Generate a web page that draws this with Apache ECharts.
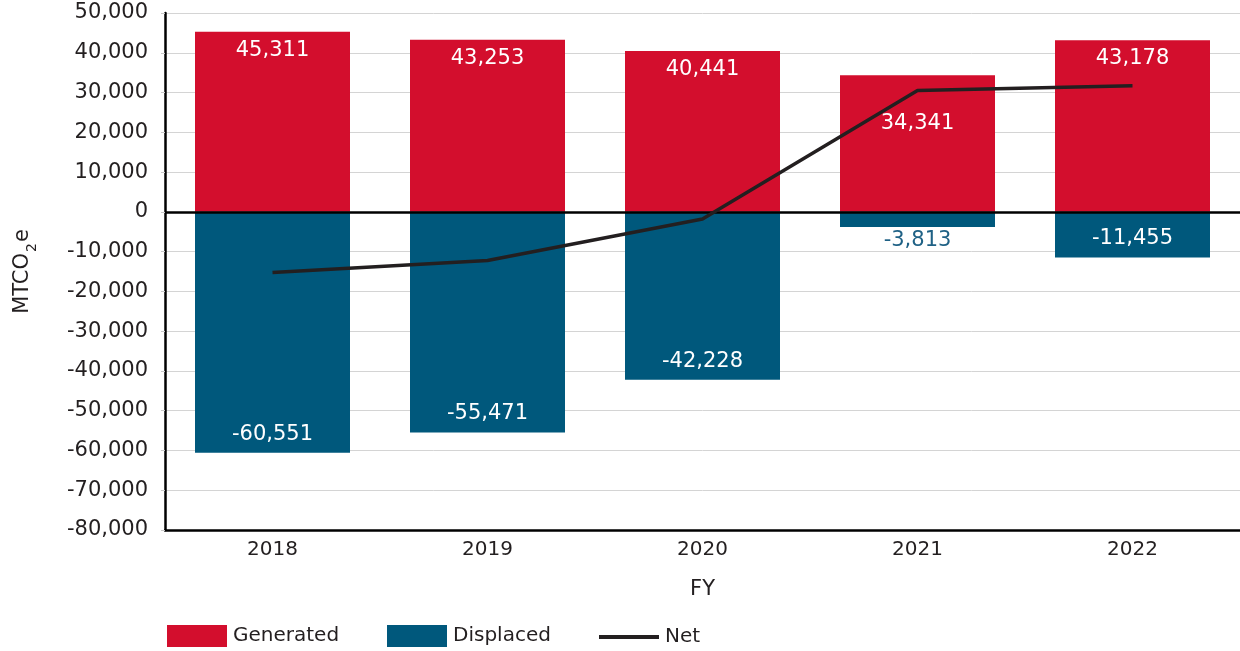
<!DOCTYPE html>
<html>
<head>
<meta charset="utf-8">
<script src="https://cdn.jsdelivr.net/npm/echarts@6/dist/echarts.min.js"></script>
<style>
  html, body { margin: 0; padding: 0; background: #fff; }
  #chart { width: 1240px; height: 651px; }
</style>
</head>
<body>
<div id="chart"></div>
<script>
// values
const years = ['2018', '2019', '2020', '2021', '2022'];
const generated = [45311, 43253, 40441, 34341, 43178];
const displaced = [-60551, -55471, -42228, -3813, -11455];
const net = [-15240, -12218, -1787, 30528, 31723];

const font = 'DejaVu Sans';
const textColor = '#231f20';
const red = '#d30e2d';
const teal = '#00587c';

const fmt = v => v.toLocaleString('en-US');

// the 2021 bars carry their labels a bit differently
const generatedData = generated.map((v, i) => i === 3
  ? { value: v, label: { distance: 38 } } : v);
const displacedData = displaced.map((v, i) => i === 3
  ? { value: v, label: { position: 'bottom', distance: 3, color: '#1f6185' } } : v);

const chart = echarts.init(document.getElementById('chart'));

const legendBase = {
  bottom: -1,
  itemWidth: 60,
  itemHeight: 22,
  itemGap: 0,
  textStyle: { fontFamily: font, fontSize: 20, color: textColor, padding: [0, 0, 0, 1] },
  selectedMode: false
};

chart.setOption({
  animation: false,
  textStyle: { fontFamily: font },
  grid: { left: 165, right: 0, top: 13, bottom: 121, containLabel: false },
  legend: [
    Object.assign({}, legendBase, { left: 162, data: [{ name: 'Generated', icon: 'rect' }] }),
    Object.assign({}, legendBase, { left: 382, data: [{ name: 'Displaced', icon: 'rect' }] }),
    Object.assign({}, legendBase, {
      left: 594, itemHeight: 4,
      data: [{ name: 'Net', icon: 'rect', itemStyle: { color: textColor } }]
    })
  ],
  xAxis: {
    type: 'category',
    data: years,
    name: 'FY',
    nameLocation: 'middle',
    nameGap: 49,
    nameTextStyle: { fontFamily: font, fontSize: 21, color: textColor },
    axisLine: { onZero: false, lineStyle: { color: '#000', width: 2.5 } },
    axisTick: { show: false },
    axisLabel: { fontFamily: font, fontSize: 20, color: textColor, margin: 10 }
  },
  yAxis: {
    type: 'value',
    min: -80000,
    max: 50000,
    interval: 10000,
    name: '{a|MTCO}{b|2}{a|e}',
    nameLocation: 'middle',
    nameRotate: 90,
    nameGap: 132,
    nameTextStyle: {
      fontFamily: font, fontSize: 21, color: textColor,
      rich: {
        a: { fontFamily: font, fontSize: 21, color: textColor, lineHeight: 26, verticalAlign: 'bottom' },
        b: { fontFamily: font, fontSize: 14, color: textColor, lineHeight: 26, verticalAlign: 'bottom', padding: [0, 1, -6, 1] }
      }
    },
    axisLine: { show: true, lineStyle: { color: '#000', width: 2.5 } },
    axisTick: { show: true, length: 4, lineStyle: { color: '#c8c8c8' } },
    axisLabel: { fontFamily: font, fontSize: 21, color: textColor, margin: 17, formatter: fmt },
    splitLine: { lineStyle: { color: '#d4d4d4', width: 1 } }
  },
  series: [
    {
      name: 'Generated',
      type: 'bar',
      data: generatedData,
      barWidth: 155,
      barGap: '-100%',
      itemStyle: { color: red },
      label: {
        show: true, position: 'insideTop', distance: 8,
        fontFamily: font, fontSize: 21, color: '#fff',
        formatter: p => fmt(p.value)
      }
    },
    {
      name: 'Displaced',
      type: 'bar',
      data: displacedData,
      barWidth: 155,
      barGap: '-100%',
      itemStyle: { color: teal },
      label: {
        show: true, position: 'insideBottom', distance: 8,
        fontFamily: font, fontSize: 21, color: '#fff',
        formatter: p => fmt(p.value)
      }
    },
    {
      name: 'Net',
      type: 'line',
      data: net,
      symbol: 'none',
      z: 5,
      lineStyle: { color: textColor, width: 3.5 },
      itemStyle: { color: textColor },
      markLine: {
        silent: true,
        symbol: 'none',
        label: { show: false },
        lineStyle: { color: '#000', width: 2.5, type: 'solid' },
        data: [{ yAxis: 0 }]
      }
    }
  ]
});
</script>
</body>
</html>
